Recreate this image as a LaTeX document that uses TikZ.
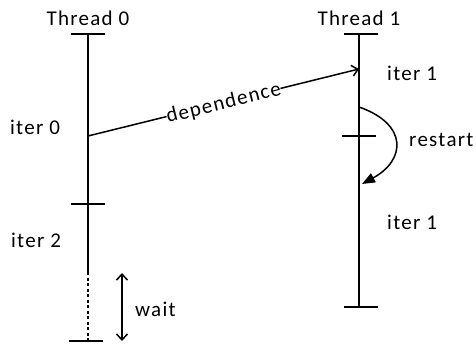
\documentclass[tikz,border=0pt]{standalone}
\usepackage{fontspec}
\setmainfont[LetterSpace=6]{Carlito}
\usetikzlibrary{arrows.meta}
\begin{document}
\begin{tikzpicture}[x=1pt,y=-1pt,
  lane/.style={line width=1.5pt},
  tick/.style={line width=1.5pt},
  lbl/.style={font=\fontsize{21}{25}\selectfont, inner sep=1pt},
  barb/.tip={Straight Barb[length=6pt,width=11pt,line width=1.5pt]},
  ]
\useasboundingbox (0,0) rectangle (476,343);

% thread timelines
\coordinate (t0top) at (88,34);
\coordinate (t0mid) at (88,204);
\coordinate (t0dash) at (88,272);
\coordinate (t0bot) at (88,341);
\coordinate (t1top) at (359,34);
\coordinate (t1mid) at (359,136);
\coordinate (t1bot) at (359,307);

\draw[lane] (t0top) -- (t0dash);
\draw[lane, dash pattern=on 3pt off 2.5pt] (t0dash) -- (t0bot);
\draw[lane] (t1top) -- (t1bot);

% ticks
\draw[tick] ([xshift=-17pt]t0top) -- ([xshift=17pt]t0top);
\draw[tick] ([xshift=-17pt]t0mid) -- ([xshift=17pt]t0mid);
\draw[tick] ([xshift=-19pt]t0bot) -- ([xshift=15pt]t0bot);
\draw[tick] ([xshift=-15pt]t1top) -- ([xshift=19pt]t1top);
\draw[tick] ([xshift=-17pt]t1mid) -- ([xshift=17pt]t1mid);
\draw[tick] ([xshift=-15pt]t1bot) -- ([xshift=19pt]t1bot);

% labels
\node[lbl] (th0) at (88,18) {Thread 0};
\node[lbl] (th1) at (359,18) {Thread 1};
\node[lbl, anchor=west] (it0) at (9,127) {iter 0};
\node[lbl, anchor=west] (it2) at (10,240) {iter 2};
\node[lbl, anchor=west] (it1a) at (386,73) {iter 1};
\node[lbl, anchor=west] (it1b) at (386,222) {iter 1};
\node[lbl, anchor=west] (rs) at (408,140) {restart};
\node[lbl, anchor=west] (wt) at (134,309) {wait};

% dependence
\coordinate (dsrc) at (88,136);
\coordinate (ddst) at (359,69);
\draw[lane, -barb] (dsrc) -- node[lbl, sloped, fill=white, inner sep=0pt, yshift=-1pt] (dep) {dependence} (ddst);

% restart
\coordinate (rsrc) at (359,107);
\coordinate (rdst) at (362,184);
\draw[lane, -{Triangle[length=13pt,width=10pt]}] (rsrc) .. controls (408,124) and (406,160) .. (rdst);

% wait
\coordinate (wtop) at (122,273);
\coordinate (wbot) at (122,341);
\draw[lane, barb-barb] (wtop) -- (wbot);
\end{tikzpicture}
\end{document}
